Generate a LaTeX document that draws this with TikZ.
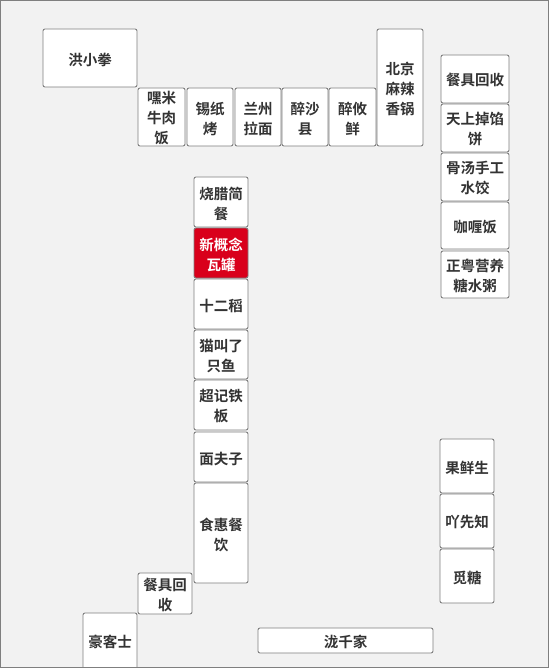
\documentclass[tikz,border=0pt]{standalone}
\usepackage{fontspec}
\setmainfont{Noto Sans CJK SC}[BoldFont={* Bold}]
\newfontfamily\cjk{Noto Sans CJK SC Bold}
\definecolor{bgc}{HTML}{F2F2F2}
\definecolor{edgec}{HTML}{7F7F7F}
\definecolor{txtc}{HTML}{333333}
\definecolor{redc}{HTML}{D9001B}
\begin{document}
\begin{tikzpicture}[x=1pt,y=1pt,
  room/.style={draw=edgec, line width=0.9pt, fill=white, rounded corners=2pt,
    inner sep=0pt, align=center, text=txtc,
    font=\cjk\fontsize{14.5}{20}\selectfont},
  hot/.style={room, fill=redc, text=white}]
\useasboundingbox (0,0) rectangle (549,-668);
\fill[bgc] (0,0) rectangle (549,-668);
\begin{scope}
\clip (0,0) rectangle (549,-668);
% helper: box with text
\def\bx#1#2#3#4#5#6#7{%
  \path[#1] (#3,-#4) rectangle (#5,-#6);
  \node[#1, draw=none, fill=none, rounded corners=0pt] (#2) at ({(#3+#5)/2},{-(#4+#6)/2-1.5}) {#7};}
\bx{room}{hong}{43}{29}{137}{87}{洪小拳}
\bx{room}{heimi}{138}{88}{185}{146}{嘿米\\牛肉\\饭}
\bx{room}{xizhi}{187}{88}{233}{146}{锡纸\\烤}
\bx{room}{lanzhou}{235}{88}{281}{146}{兰州\\拉面}
\bx{room}{zuisha}{282}{88}{328}{146}{醉沙\\县}
\bx{room}{zuiyou}{329}{88}{376}{146}{醉攸\\鲜}
\bx{room}{beijing}{377}{29}{423}{146}{北京\\麻辣\\香锅}
\bx{room}{canjuA}{441}{55}{509}{103}{餐具回收}
\bx{room}{tianshang}{441}{104}{509}{152}{天上掉馅\\饼}
\bx{room}{gutang}{441}{153}{509}{201}{骨汤手工\\水饺}
\bx{room}{gali}{441}{202}{509}{249}{咖喱饭}
\bx{room}{zhengyue}{441}{251}{509}{298}{正粤营养\\糖水粥}
\bx{room}{shaola}{194}{177}{248}{227}{烧腊简\\餐}
\bx{hot}{xingainian}{194}{228}{248}{278}{新概念\\瓦罐}
\bx{room}{shierdao}{194}{279}{248}{329}{十二稻}
\bx{room}{maojiao}{194}{330}{248}{379}{猫叫了\\只鱼}
\bx{room}{chaoji}{194}{380}{248}{430}{超记铁\\板}
\bx{room}{mianfuzi}{194}{432}{248}{482}{面夫子}
\bx{room}{shihui}{194}{483}{248}{583}{食惠餐\\饮}
\bx{room}{canjuB}{138}{573}{192}{614}{餐具回\\收}
\bx{room}{haokeshi}{83}{613}{137}{675}{}
\node[text=txtc, font=\cjk\fontsize{14.5}{20}\selectfont] (haokeshiT) at (110,-642) {豪客士};
\bx{room}{guoxian}{440}{439}{494}{493}{果鲜生}
\bx{room}{yaxian}{440}{494}{494}{548}{吖先知}
\bx{room}{mitang}{440}{549}{494}{603}{觅糖}
\bx{room}{longqian}{258}{628}{433}{653}{泷千家}
\end{scope}
\draw[edgec, line width=1.2pt] (0.6,-0.6) rectangle (548.4,-667.4);
\end{tikzpicture}
\end{document}
